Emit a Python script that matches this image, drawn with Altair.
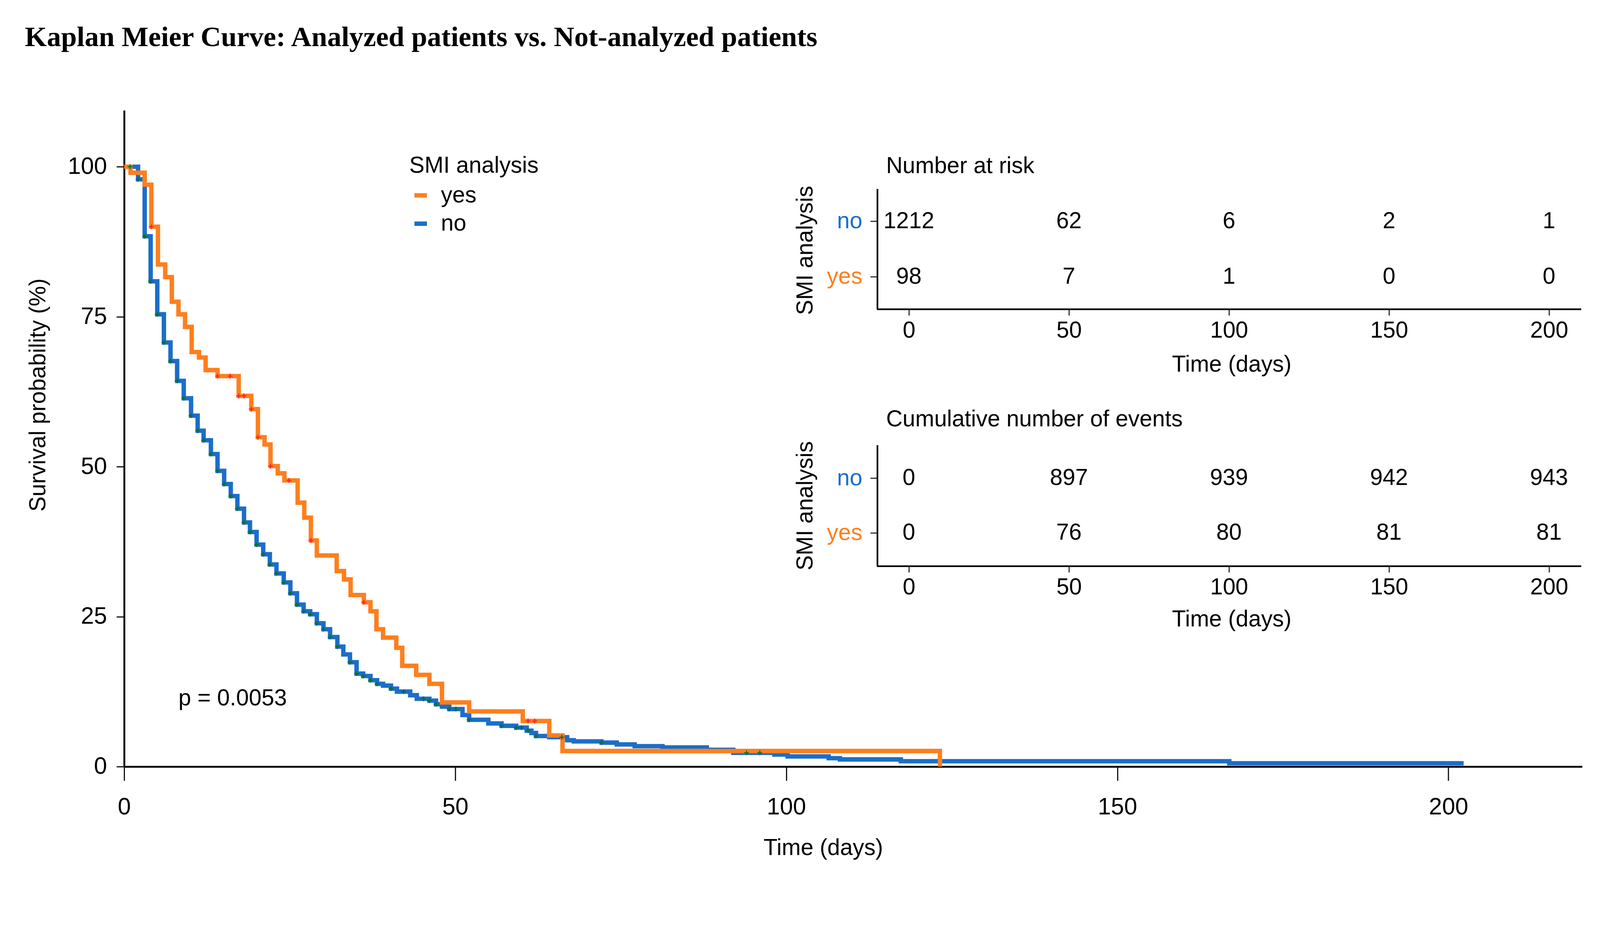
import altair as alt
import pandas as pd

# ---------------- data ----------------
chart_title = "Kaplan Meier Curve: Analyzed patients vs. Not-analyzed patients"
groups = ["yes", "no"]
group_colors = ["#fe7f1e", "#1b6ec9"]
censor_colors = {"no": "#0b6e2a", "yes": "#ff2020"}

no_time = [0, 2.1, 3.1, 4.0, 5.0, 6.0, 7.0, 8.0, 9.0, 10.1, 11.1, 12.0, 13.1, 14.1, 15.1,
           16.1, 17.1, 18.1, 19.0, 20.0, 21.0, 22.0, 23.0, 24.1, 25.1, 26.1, 27.1, 28.1,
           29.1, 30.1, 31.1, 32.2, 33.1, 34.1, 35.1, 36.1, 37.2, 38.2, 39.1, 40.3, 41.2,
           43.2, 44.2, 46.1, 47.1, 48.0, 49.1, 51.1, 52.1, 55.0, 57.0, 59.2, 60.8, 61.5,
           62.2, 64.2, 66.9, 67.9, 72.1, 74.4, 77.1, 81.3, 88.0, 92.0, 98.2, 100.2, 106.4,
           108.1, 117.3, 166.9, 202.3]
no_surv = [100, 97.9, 88.4, 80.9, 75.4, 70.7, 67.6, 64.3, 61.4, 58.5, 56.0, 54.4, 52.1, 49.3,
           47.1, 45.1, 43.0, 40.7, 39.1, 37.0, 35.4, 33.7, 32.2, 30.7, 28.9, 27.0, 25.9, 25.4,
           23.9, 22.9, 21.6, 20.0, 18.7, 17.4, 15.5, 15.1, 14.4, 13.8, 13.5, 13.0, 12.5, 11.9,
           11.3, 11.0, 10.4, 10.0, 9.6, 8.6, 7.8, 7.2, 6.8, 6.5, 6.0, 5.6, 5.1, 4.9, 4.4, 4.2,
           4.0, 3.7, 3.4, 3.2, 2.8, 2.3, 2.0, 1.7, 1.4, 1.2, 0.9, 0.55, 0.55]

yes_time = [0, 0.96, 3.1, 4.1, 5.1, 6.2, 7.2, 8.2, 9.2, 10.2, 11.3, 12.3, 14.1, 17.3, 19.2,
            20.2, 21.2, 22.1, 23.2, 24.2, 26.2, 27.2, 28.2, 29.1, 32.1, 33.2, 34.2, 36.2,
            37.2, 38.1, 39.1, 41.1, 42.0, 44.1, 46.1, 48.0, 52.1, 60.2, 64.2, 66.2, 123.2]
yes_surv = [100, 99.0, 97.0, 90.0, 83.7, 81.6, 77.5, 75.4, 73.3, 69.1, 68.2, 66.1, 65.1, 61.8,
            59.6, 54.9, 53.7, 50.1, 48.9, 47.7, 44.0, 41.5, 37.7, 35.2, 32.6, 31.2, 28.6, 27.4,
            25.9, 22.9, 21.5, 19.8, 16.8, 15.3, 13.8, 10.7, 9.2, 7.6, 5.2, 2.6, 0]

no_cens_time = [0.9, 2.1, 3.1, 4.0, 5.0, 6.0, 7.0, 8.0, 9.0, 10.1, 11.1, 12.0, 13.1, 14.1, 15.1,
                16.1, 17.1, 18.1, 19.0, 20.0, 21.0, 22.0, 23.0, 24.1, 25.1, 26.1, 27.1, 28.1,
                29.1, 30.1, 31.1, 32.2, 34.1, 35.1, 36.1, 37.2, 38.2, 40.3, 42.2, 45.2, 46.1,
                47.1, 49.1, 50.1, 52.1, 57.0, 59.2, 60.0, 61.0, 62.2, 66.1, 72.1, 94.0, 96.0]
no_cens_surv = [100, 97.9, 88.4, 80.9, 75.4, 70.7, 67.6, 64.3, 61.4, 58.5, 56.0, 54.4, 52.1,
                49.3, 47.1, 45.1, 43.0, 40.7, 39.1, 37.0, 35.4, 33.7, 32.2, 30.7, 28.9, 27.0,
                25.9, 25.4, 23.9, 22.9, 21.6, 20.0, 17.4, 15.5, 15.1, 14.4, 13.8, 13.0, 12.5,
                11.3, 11.0, 10.4, 9.6, 9.6, 7.8, 6.8, 6.5, 6.5, 6.0, 5.1, 4.9, 4.0, 2.3, 2.3]
yes_cens_time = [4.1, 14.1, 16.0, 17.3, 18.1, 19.2, 20.2, 22.1, 24.9, 28.2, 36.2, 61.0, 62.0]
yes_cens_surv = [90.0, 65.1, 65.1, 61.8, 61.8, 59.6, 54.9, 50.1, 47.7, 37.7, 27.4, 7.6, 7.6]

table_times = [0, 50, 100, 150, 200]
table_rows = ["no", "yes"]
risk_no = [1212, 62, 6, 2, 1]
risk_yes = [98, 7, 1, 0, 0]
events_no = [0, 897, 939, 942, 943]
events_yes = [0, 76, 80, 81, 81]

p_label = "p = 0.0053"
p_x, p_y = 8.2, 10.2

x_ticks = [0, 50, 100, 150, 200]
y_ticks = [0, 25, 50, 75, 100]

# ---------------- layout ----------------
W, H = 3963, 1783
SANS = "Liberation Sans"
BLUE, ORANGE = group_colors[1], group_colors[0]

df_lines = pd.concat([
    pd.DataFrame({"time": no_time, "surv": no_surv, "group": "no"}),
    pd.DataFrame({"time": yes_time, "surv": yes_surv, "group": "yes"}),
], ignore_index=True)
df_cens_no = pd.DataFrame({"time": no_cens_time, "surv": no_cens_surv})
df_cens_yes = pd.DataFrame({"time": yes_cens_time, "surv": yes_cens_surv})
df_p = pd.DataFrame({"time": [p_x], "surv": [p_y], "label": [p_label]})

X = alt.X("time:Q",
          scale=alt.Scale(domain=[0, 220.2], nice=False, zero=False),
          axis=alt.Axis(values=x_ticks, title="Time (days)", grid=False,
                        tickSize=38, tickWidth=3, domainWidth=5,
                        domainColor="black", tickColor="black",
                        labelFontSize=64, labelFont=SANS, labelColor="black",
                        labelPadding=91, labelBaseline="alphabetic",
                        labelFlush=False, labelOverlap=False,
                        titleFontSize=62, titleFont=SANS, titleFontWeight="normal",
                        titleColor="black", titleX=1900, titleY=240,
                        titleBaseline="alphabetic", titleAlign="center"))
Y = alt.Y("surv:Q",
          scale=alt.Scale(domain=[0, 109.4], nice=False, zero=False),
          axis=alt.Axis(values=y_ticks, title="Survival probability (%)", grid=False,
                        tickSize=21, tickWidth=3, domainWidth=5,
                        domainColor="black", tickColor="black",
                        labelFontSize=64, labelFont=SANS, labelColor="black",
                        labelPadding=26, labelFlush=False, labelOverlap=False,
                        titleFontSize=62, titleFont=SANS, titleFontWeight="normal",
                        titleColor="black", titleX=-215, titleY=773, titleAngle=270,
                        titleBaseline="alphabetic", titleAlign="center"))
COLOR = alt.Color("group:N",
                  scale=alt.Scale(domain=groups, range=group_colors),
                  legend=alt.Legend(orient="none", legendX=775, legendY=120,
                                    title="SMI analysis", titleFontSize=62, titleFont=SANS,
                                    titleFontWeight="normal", titleColor="black",
                                    titleLimit=2000, labelLimit=2000,
                                    titlePadding=18, labelFontSize=62, labelFont=SANS,
                                    labelColor="black", symbolType="stroke",
                                    symbolSize=1156, symbolStrokeWidth=12,
                                    labelOffset=24, rowPadding=15, padding=0))

line_base = alt.Chart(df_lines).mark_line(interpolate="step-after", strokeWidth=12,
                                          strokeJoin="miter", strokeCap="butt")
lines_no = line_base.transform_filter("datum.group == 'no'").encode(x=X, y=Y, color=COLOR)
lines_yes = line_base.transform_filter("datum.group == 'yes'").encode(x=X, y=Y, color=COLOR)

plus = "M-1,0L1,0M0,-1L0,1"
cens_no = alt.Chart(df_cens_no).mark_point(shape=plus, size=170, strokeWidth=3, filled=False,
                                           opacity=1, color=censor_colors["no"]).encode(x=X, y=Y)
cens_yes = alt.Chart(df_cens_yes).mark_point(shape=plus, size=170, strokeWidth=3, filled=False,
                                             opacity=1, color=censor_colors["yes"]).encode(x=X, y=Y)
p_text = alt.Chart(df_p).mark_text(align="left", baseline="alphabetic", fontSize=62,
                                   font=SANS, color="black").encode(x=X, y=Y, text="label:N")

main = alt.layer(lines_no, lines_yes, cens_no, cens_yes, p_text)


def make_table(no_vals, yes_vals, heading, x_offset_px, y_range, pad, ax_offset,
               title_y, xtitle_y, heading_y):
    df = pd.DataFrame({
        "time": table_times * 2,
        "row": ["no"] * len(table_times) + ["yes"] * len(table_times),
        "value": [str(v) for v in no_vals] + [str(v) for v in yes_vals],
    })
    tx = alt.X("time:Q",
               scale=alt.Scale(domain=[-10, 210], range=[2046, 3960], nice=False, zero=False),
               axis=alt.Axis(orient="bottom", offset=ax_offset, values=table_times,
                             title="Time (days)", grid=False, tickSize=17, tickWidth=2.5,
                             domainWidth=4.5, domainColor="black", tickColor="black",
                             labelFontSize=62, labelFont=SANS, labelColor="black",
                             labelPadding=60, labelBaseline="alphabetic", labelFlush=False,
                             labelOverlap=False, titleFontSize=62, titleFont=SANS,
                             titleFontWeight="normal", titleColor="black",
                             titleX=3010, titleY=xtitle_y, titleBaseline="alphabetic",
                             titleAlign="center"))
    ty = alt.Y("row:N",
               scale=alt.Scale(type="point", domain=table_rows, range=y_range, padding=pad),
               axis=alt.Axis(orient="left", offset=-x_offset_px, title="SMI analysis",
                             grid=False, tickSize=19, tickWidth=2.5, domainWidth=4.5,
                             domainColor="black", tickColor="black",
                             labelFontSize=62, labelFont=SANS, labelPadding=22,
                             labelColor={"condition": {"test": "datum.value == 'no'",
                                                       "value": BLUE},
                                         "value": ORANGE},
                             titleFontSize=62, titleFont=SANS, titleFontWeight="normal",
                             titleColor="black", titleX=-176, titleY=title_y,
                             titleAngle=270, titleBaseline="alphabetic",
                             titleAlign="center"))
    nums = alt.Chart(df).mark_text(fontSize=62, font=SANS, color="black", align="center",
                                   baseline="middle").encode(x=tx, y=ty, text="value:N")
    head = alt.Chart(pd.DataFrame({"t": [heading]})).mark_text(
        align="left", baseline="alphabetic", fontSize=62, font=SANS, color="black"
    ).encode(x=alt.value(2071), y=alt.value(heading_y), text="t:N")
    return alt.layer(nums, head)


table1 = make_table(risk_no, risk_yes, "Number at risk", 2047, [213, 540], 0.584,
                    840 - 2083, 380, 169, 171)
table2 = make_table(events_no, events_yes, "Cumulative number of events", 2047, [909, 1238],
                    0.604, 1538 - 2083, 1074, 164, 859)

chart = alt.layer(main, table1, table2).resolve_scale(
    x="independent", y="independent"
).resolve_axis(
    x="independent", y="independent"
).properties(
    width=W, height=H,
    background="white",
    autosize=alt.AutoSizeParams(type="none"),
    padding={"left": 329, "top": 218, "right": 40, "bottom": 373},
    title=alt.Title(chart_title, anchor="start", frame="group", font="Liberation Serif",
                    fontSize=77, fontWeight="bold", color="black", dx=-270, offset=159),
).configure_view(stroke=None, strokeWidth=0)

chart.save("out.html", embed_options={"renderer": "svg", "actions": False})
